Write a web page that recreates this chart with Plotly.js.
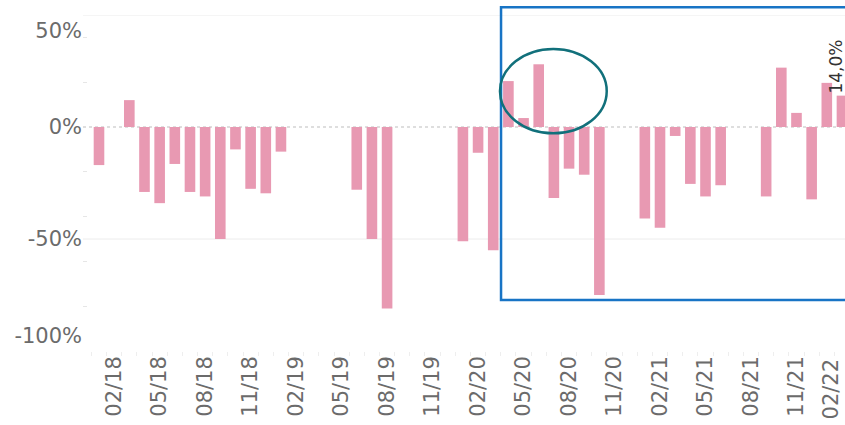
<!DOCTYPE html>
<html>
<head>
<meta charset="utf-8">
<script src="https://cdn.plot.ly/plotly-3.0.1.min.js"></script>
<style>html,body{margin:0;padding:0;background:#fff;}#chart{width:845px;height:425px;}</style>
</head>
<body>
<div id="chart"></div>
<script>
// Monthly categories 01/18 .. 02/22
const months = [
  "01/18","02/18","03/18","04/18","05/18","06/18","07/18","08/18","09/18","10/18","11/18","12/18",
  "01/19","02/19","03/19","04/19","05/19","06/19","07/19","08/19","09/19","10/19","11/19","12/19",
  "01/20","02/20","03/20","04/20","05/20","06/20","07/20","08/20","09/20","10/20","11/20","12/20",
  "01/21","02/21","03/21","04/21","05/21","06/21","07/21","08/21","09/21","10/21","11/21","12/21",
  "01/22","02/22"
];
// Percentage change per month (null = no bar)
const values = [
  -17, null, 12, -29, -34, -16.5, -29, -31, -50, -10, -27.6, -29.6,
  -11, null, null, null, null, -28, -50, -81, null, null, null, null,
  -51, -11.5, -55, 20.5, 4, 28, -31.7, -18.6, -21.3, -75, null, null,
  -40.8, -45, -4, -25.4, -31, -26, null, null, -31, 26.5, 6.3, -32.3,
  19.7, 14.0
];
const lastIdx = months.length - 1;
// Tick labels on the x axis: every third month starting 02/18
// (the last one sits at the cropped edge and is drawn pushed inward)
const xTickText = months.map((m, i) => (i % 3 === 1 && i !== lastIdx ? m : ""));
const edgeTickLabel = months[lastIdx];
// Y axis labels (outer labels drawn inside the pane, as in the original)
const yLabelPos = [43, 0, -50, -93];
const yLabelText = ["50%", "0%", "-50%", "-100%"];
const gridVals = [50, -50];
const minorVals = [40, 20, -20, -40, -60, -80];

const labelText = values[lastIdx].toFixed(1).replace(".", ",") + "%";

const FONT = "DejaVu Sans, Verdana, sans-serif";
const TICKFONT = { family: FONT, size: 21, color: "#6b6b6b" };

const trace = {
  type: "bar",
  x: months,
  y: values,
  marker: { color: "#e899b2" },
  hoverinfo: "x+y"
};

const shapes = [];
gridVals.forEach(v => shapes.push({
  type: "line", xref: "paper", yref: "y", x0: 0, x1: 1, y0: v, y1: v,
  line: { color: "#ececec", width: 1 }, layer: "below"
}));
shapes.push({
  type: "line", xref: "paper", yref: "y", x0: 0, x1: 1, y0: 0, y1: 0,
  line: { color: "#bdbdbd", width: 1, dash: "dot" }, layer: "below"
});
// highlight rectangle
shapes.push({
  type: "rect", xref: "paper", yref: "paper",
  x0: 0.5486, x1: 1.06, y0: 0.152, y1: 1.023,
  line: { color: "#1874c5", width: 2.5 }, fillcolor: "rgba(0,0,0,0)"
});
// highlight ellipse
shapes.push({
  type: "circle", xref: "paper", yref: "paper",
  x0: 0.5472, x1: 0.6873, y0: 0.648, y1: 0.8988,
  line: { color: "#11707b", width: 2.5 }, fillcolor: "rgba(0,0,0,0)"
});

const layout = {
  width: 845, height: 425,
  margin: { l: 83, r: 0, t: 15, b: 74, pad: 0 },
  paper_bgcolor: "#ffffff", plot_bgcolor: "#ffffff",
  showlegend: false,
  bargap: 0.3,
  xaxis: {
    type: "category",
    range: [-1.055, 49.2],
    tickmode: "array",
    tickvals: months,
    ticktext: xTickText,
    tickangle: -90,
    tickson: "boundaries",
    ticks: "outside", ticklen: 4, tickcolor: "#eeeeee", tickwidth: 1,
    showgrid: false, zeroline: false, showline: false,
    tickfont: TICKFONT
  },
  yaxis: {
    range: [-100, 50],
    tickmode: "array",
    tickvals: yLabelPos,
    ticktext: yLabelText,
    ticks: "",
    showgrid: false, zeroline: false, showline: false,
    tickfont: TICKFONT,
    minor: { tickmode: "array", tickvals: minorVals, ticks: "inside", ticklen: 4, tickcolor: "#e6e6e6", showgrid: false }
  },
  shapes: shapes,
  annotations: [
    {
      x: months[lastIdx], y: values[lastIdx], xref: "x", yref: "y",
      text: labelText, showarrow: false, textangle: -90,
      xanchor: "center", yanchor: "bottom", xshift: -6,
      font: { family: FONT, size: 17, color: "#333333" }
    },
    {
      x: months[lastIdx], y: 0, xref: "x", yref: "paper",
      text: edgeTickLabel, showarrow: false, textangle: -90,
      xanchor: "center", yanchor: "top", xshift: -11, yshift: -5,
      font: TICKFONT
    }
  ]
};

Plotly.newPlot("chart", [trace], layout, { displayModeBar: false, staticPlot: true });
</script>
</body>
</html>
